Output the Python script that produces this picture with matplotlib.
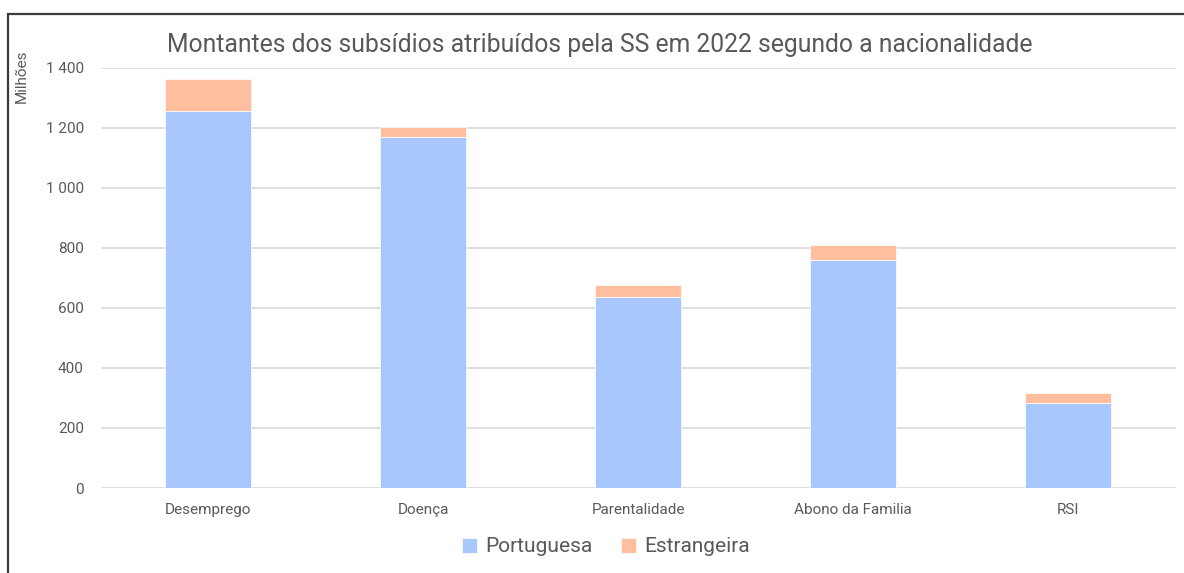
import matplotlib
matplotlib.use("Agg")
import matplotlib.pyplot as plt
from matplotlib.patches import Rectangle
from matplotlib.ticker import FuncFormatter

categories = ["Desemprego", "Doença", "Parentalidade", "Abono da Familia", "RSI"]
portuguesa = [1256, 1169, 635, 760, 283]
estrangeira = [106, 34, 40, 49, 33]
series_names = ["Portuguesa", "Estrangeira"]
title = "Montantes dos subsídios atribuídos pela SS em 2022 segundo a nacionalidade"

plt.rcParams['font.family'] = ['Roboto', 'DejaVu Sans']
W, H = 1184, 573
fig = plt.figure(figsize=(W/100, H/100), dpi=100)
fig.patch.set_facecolor("white")

# border
fig.patches.append(Rectangle((8/W, -0.1), 1.2, (H-14)/H + 0.1, transform=fig.transFigure,
                             fill=False, edgecolor="#3a3a3a", lw=1.6))

ax = fig.add_axes([100.5/W, 1-488/H, (1176-100.5)/W, (488-67.7)/H])
blue = "#A7C7FD"
orange = "#FFBF9E"
x = range(len(categories))
ax.bar(x, portuguesa, width=0.4, color=blue, edgecolor="white", linewidth=0.5, label=series_names[0], zorder=3)
ax.bar(x, estrangeira, width=0.4, bottom=portuguesa, color=orange, edgecolor="white", linewidth=0.5,
       label=series_names[1], zorder=3)

ax.set_xlim(-0.5, 4.5)
ax.set_ylim(0, 1400)
ax.set_yticks(range(0, 1401, 200))
ax.yaxis.set_major_formatter(FuncFormatter(lambda v, p: f"{int(v):,}".replace(",", " ")))
ax.grid(axis="y", color="#D9D9D9", lw=1.2, zorder=0)
for s in ax.spines.values():
    s.set_visible(False)
ax.tick_params(axis="both", length=0, colors="#595959", labelsize=11)
ax.tick_params(axis="y", pad=12)
ax.tick_params(axis="x", pad=11)
ax.set_xticks(list(x))
ax.set_xticklabels(categories)

fig.text(22/W, 1-76/H, "Milhões", rotation=90, ha="center", va="center", fontsize=11, color="#595959")
fig.text(600/W, 1-45/H, title, ha="center", va="center", fontsize=17.8, color="#595959")

leg = fig.legend(loc="center", bbox_to_anchor=(606/W, 1-547/H), ncol=2, frameon=False,
                 fontsize=15, handlelength=0.7, handleheight=0.7, handletextpad=0.4, columnspacing=1.4,
                 labelcolor="#595959")

fig.savefig("out.png", dpi=100)
